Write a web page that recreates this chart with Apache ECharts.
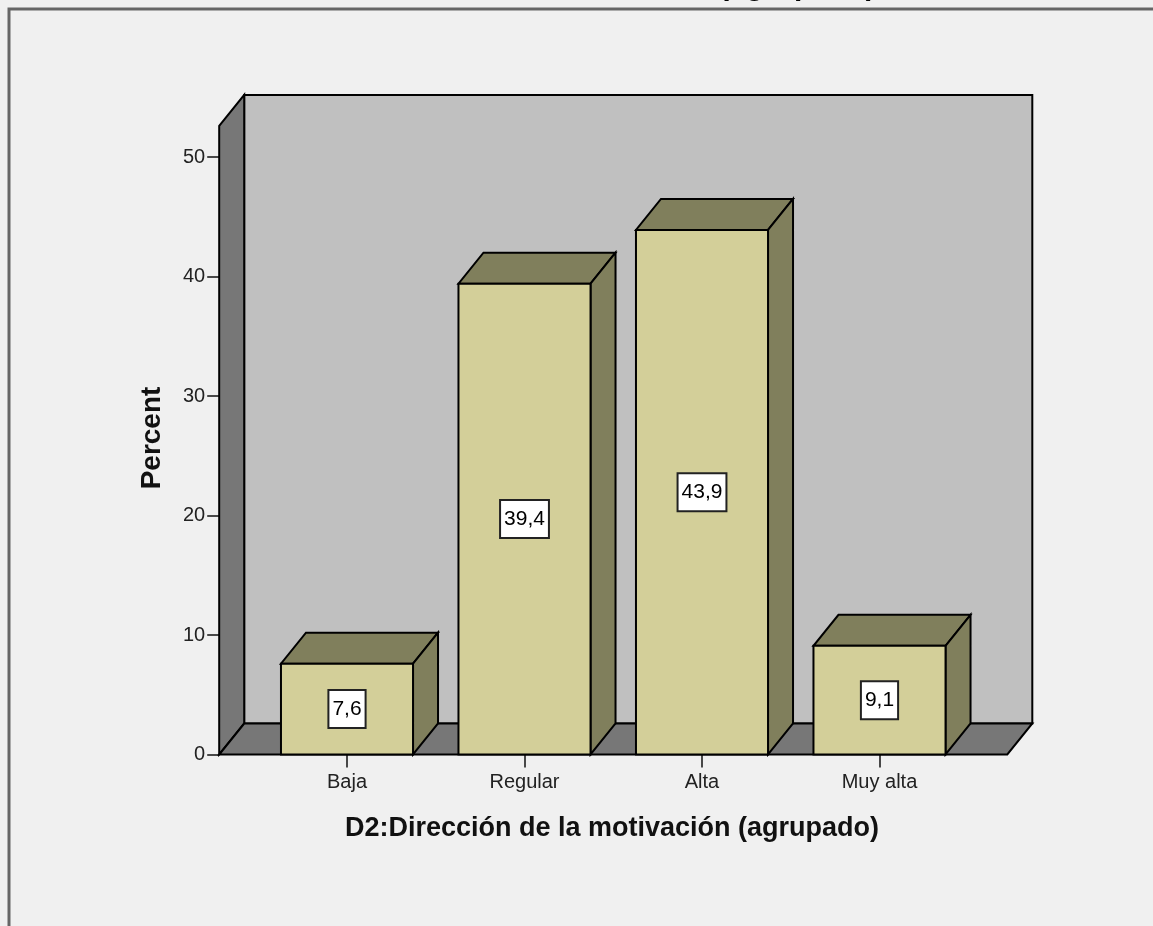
<!DOCTYPE html>
<html>
<head>
<meta charset="utf-8">
<title>D2:Dirección de la motivación (agrupado)</title>
<script src="https://cdn.jsdelivr.net/npm/echarts@6/dist/echarts.min.js"></script>
<style>
  html, body { margin: 0; padding: 0; background: #f0f0f0; }
  #chart { width: 1153px; height: 926px; }
</style>
</head>
<body>
<div id="chart"></div>
<script>
// Categories and percentages of the grouped variable
const categories = ['Baja', 'Regular', 'Alta', 'Muy alta'];
const percents = [7.6, 39.4, 43.9, 9.1];
const axisTitleX = 'D2:Dirección de la motivación (agrupado)';
const axisTitleY = 'Percent';
const chartTitle = 'D2:Dirección de la motivación (agrupado)';

// Visual constants for the pseudo-3D box look
const DEPTH_X = 25;          // horizontal offset of the back faces (px)
const DEPTH_Y = -31;         // vertical offset of the back faces (px)
const BAR_RATIO = 0.744;     // bar width as a share of the category band
const WALL_TOP = 52.6;       // value reached by the top edge of the walls
const WALL_EXT = 0.22;       // how far the floor reaches past the outer bands
const FACE = '#d3cf99';
const SHADE = '#807f5c';
const WALL_BACK = '#c0c0c0';
const WALL_DARK = '#777777';
const FONT = '"Liberation Sans", Arial, sans-serif';

const GRID_LEFT = 258.25;
const BAND = (1153 - GRID_LEFT - 184.75) / categories.length;

const chart = echarts.init(document.getElementById('chart'), null, { renderer: 'canvas' });

const edge = { stroke: '#000', lineWidth: 2, lineJoin: 'miter' };

function renderFrame(params, api) {
  const cs = params.coordSys;
  const band = api.size([1, 0])[0];
  const ext = band * WALL_EXT;
  const xL = cs.x - ext;
  const xR = cs.x + cs.width + ext;
  const y0 = api.coord([0, 0])[1];
  const yT = api.coord([0, WALL_TOP])[1];
  return {
    type: 'group',
    children: [
      { type: 'rect', shape: { x: xL + DEPTH_X, y: yT + DEPTH_Y, width: xR - xL, height: y0 - yT },
        style: Object.assign({ fill: WALL_BACK }, edge) },
      { type: 'polygon', shape: { points: [[xL, y0], [xL, yT], [xL + DEPTH_X, yT + DEPTH_Y], [xL + DEPTH_X, y0 + DEPTH_Y]] },
        style: Object.assign({ fill: WALL_DARK }, edge) },
      { type: 'polygon', shape: { points: [[xL, y0], [xR, y0], [xR + DEPTH_X, y0 + DEPTH_Y], [xL + DEPTH_X, y0 + DEPTH_Y]] },
        style: Object.assign({ fill: WALL_DARK }, edge) }
    ]
  };
}

function renderBox(params, api) {
  const i = api.value(0);
  const v = api.value(1);
  const top = api.coord([i, v]);
  const base = api.coord([i, 0]);
  const w = api.size([1, 0])[0] * BAR_RATIO;
  const x0 = top[0] - w / 2, x1 = top[0] + w / 2;
  const yt = top[1], yb = base[1];
  return {
    type: 'group',
    children: [
      { type: 'polygon', shape: { points: [[x0, yt], [x1, yt], [x1 + DEPTH_X, yt + DEPTH_Y], [x0 + DEPTH_X, yt + DEPTH_Y]] },
        style: Object.assign({ fill: SHADE }, edge) },
      { type: 'polygon', shape: { points: [[x1, yt], [x1 + DEPTH_X, yt + DEPTH_Y], [x1 + DEPTH_X, yb + DEPTH_Y], [x1, yb]] },
        style: Object.assign({ fill: SHADE }, edge) },
      { type: 'rect', shape: { x: x0, y: yt, width: w, height: yb - yt },
        style: Object.assign({ fill: FACE }, edge) },
      { type: 'text', x: top[0], y: (yt + yb) / 2,
        style: {
          text: v.toFixed(1).replace('.', ','),
          fill: '#000', font: '21px ' + FONT,
          align: 'center', verticalAlign: 'middle',
          backgroundColor: '#ffffff', borderColor: '#222', borderWidth: 2,
          padding: [8, 3, 7, 3]
        } }
    ]
  };
}

chart.setOption({
  backgroundColor: '#f0f0f0',
  animation: false,
  grid: { left: GRID_LEFT, right: 184.75, top: 157, bottom: 171.5 },
  xAxis: {
    type: 'category',
    data: categories,
    axisLine: { show: false },
    axisTick: { show: true, alignWithLabel: true, length: 13, lineStyle: { color: '#111', width: 1.5 } },
    axisLabel: { color: '#222', fontSize: 20, fontFamily: FONT, margin: 18 },
    splitLine: { show: false }
  },
  yAxis: {
    type: 'value',
    min: 0, max: 50, interval: 10,
    offset: BAND * WALL_EXT,
    axisLine: { show: false },
    axisTick: { show: true, length: 12, lineStyle: { color: '#111', width: 1.5 } },
    axisLabel: { color: '#222', fontSize: 20, fontFamily: FONT, margin: 14 },
    splitLine: { show: false }
  },
  graphic: [
    { type: 'rect', shape: { x: 9, y: 9, width: 1300, height: 1100 },
      style: { fill: 'none', stroke: '#666', lineWidth: 3 }, z: 100 },
    { type: 'text', x: 579, y: 2,
      style: { text: chartTitle, font: 'bold 30px ' + FONT, fill: '#000', align: 'center', verticalAlign: 'bottom' } },
    { type: 'text', x: 612, y: 829,
      style: { text: axisTitleX, font: 'bold 27px ' + FONT, fill: '#111', align: 'center', verticalAlign: 'middle' } },
    { type: 'text', x: 152, y: 438, rotation: Math.PI / 2,
      style: { text: axisTitleY, font: 'bold 28px ' + FONT, fill: '#111', align: 'center', verticalAlign: 'middle' } }
  ],
  series: [
    { type: 'custom', name: 'frame', silent: true, renderItem: renderFrame, data: [[0, 0]], z: 1 },
    { type: 'custom', name: 'Percent', renderItem: renderBox,
      data: percents.map((p, i) => [i, p]), z: 2 }
  ]
});
</script>
</body>
</html>
